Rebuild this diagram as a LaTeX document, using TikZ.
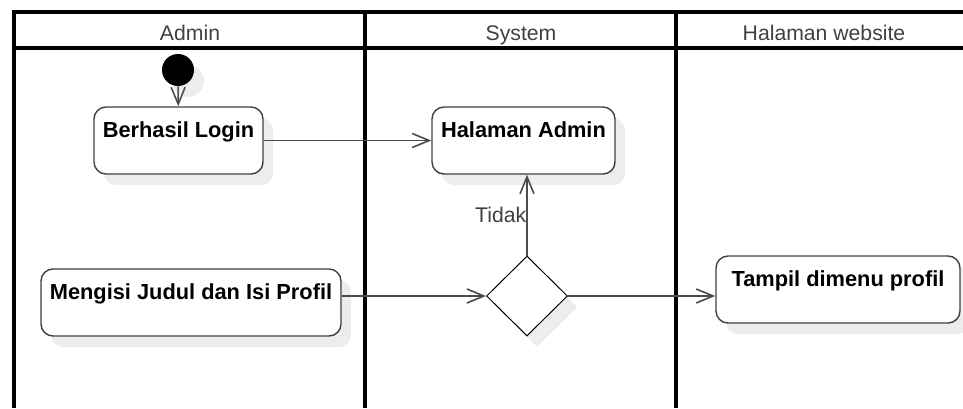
\documentclass[tikz,border=0pt]{standalone}
\usepackage{fontspec}
\setmainfont{Liberation Sans}
\usetikzlibrary{arrows.meta,shapes.geometric,shadows}

\begin{document}
\begin{tikzpicture}[
    x=0.5pt, y=-0.5pt,
    >={Straight Barb[length=8.5pt,width=7pt]},
    every node/.style={font=\fontsize{10.6pt}{12pt}\selectfont},
    lane/.style={line width=1.6pt},
    header/.style={anchor=base, text=black!75},
    bayang/.style={drop shadow={shadow xshift=5pt, shadow yshift=-5.5pt, fill=black!7, opacity=1}},
    aksi/.style={draw=black!75, line width=0.7pt, rounded corners=6pt, fill=white,
      align=center, inner sep=0pt, text height=15pt, text depth=18.5pt,
      font=\fontsize{10.9pt}{12pt}\selectfont\bfseries, bayang},
    mulai/.style={circle, fill=black, minimum size=16pt, inner sep=0pt, bayang},
    keputusan/.style={diamond, draw, line width=0.5pt, fill=white, inner sep=0pt,
      minimum width=40.5pt, minimum height=40pt, bayang},
    alur/.style={->, draw=black!70, line width=0.8pt}
  ]
  \useasboundingbox (0,0) rectangle (963,408);

  %------------------ Swimlanes ------------------%
  \draw[lane] (14,408) -- (14,12) -- (963,12);
  \draw[lane] (14,48) -- (963,48);
  \draw[lane] (365,12) -- (365,408);
  \draw[lane] (676,12) -- (676,408);

  % Headers
  \node[header] (admin)   at (190,40) {Admin};
  \node[header] (system)  at (521,40) {System};
  \node[header] (website) at (824,40) {Halaman website};

  %------------------ Activities ------------------%
  \node[mulai] (start) at (178,70) {};
  \node[aksi, minimum width=84.5pt] (login) at (178.5,140.5) {Berhasil Login};
  \node[aksi, minimum width=91.5pt] (hadmin) at (523.5,140.5) {Halaman Admin};
  \node[aksi, minimum width=150pt] (isi) at (191,302.5) {Mengisi Judul dan Isi Profil};
  \node[keputusan] (cek) at (527,296) {};
  \node[aksi, minimum width=122pt] (tampil) at (838,289.5) {Tampil dimenu profil};

  %------------------ Flows ------------------%
  \draw[alur] (start) -- (login);
  \draw[alur] (login) -- (hadmin);
  \draw[alur] (isi.east |- cek) -- (cek.west);
  \draw[alur] (cek.east) -- (cek.east -| tampil.west);
  \draw[alur] (cek.north) -- (cek.north |- hadmin.south)
    node[pos=0.5, left, inner sep=0pt, text=black!75] {Tidak};

\end{tikzpicture}
\end{document}
